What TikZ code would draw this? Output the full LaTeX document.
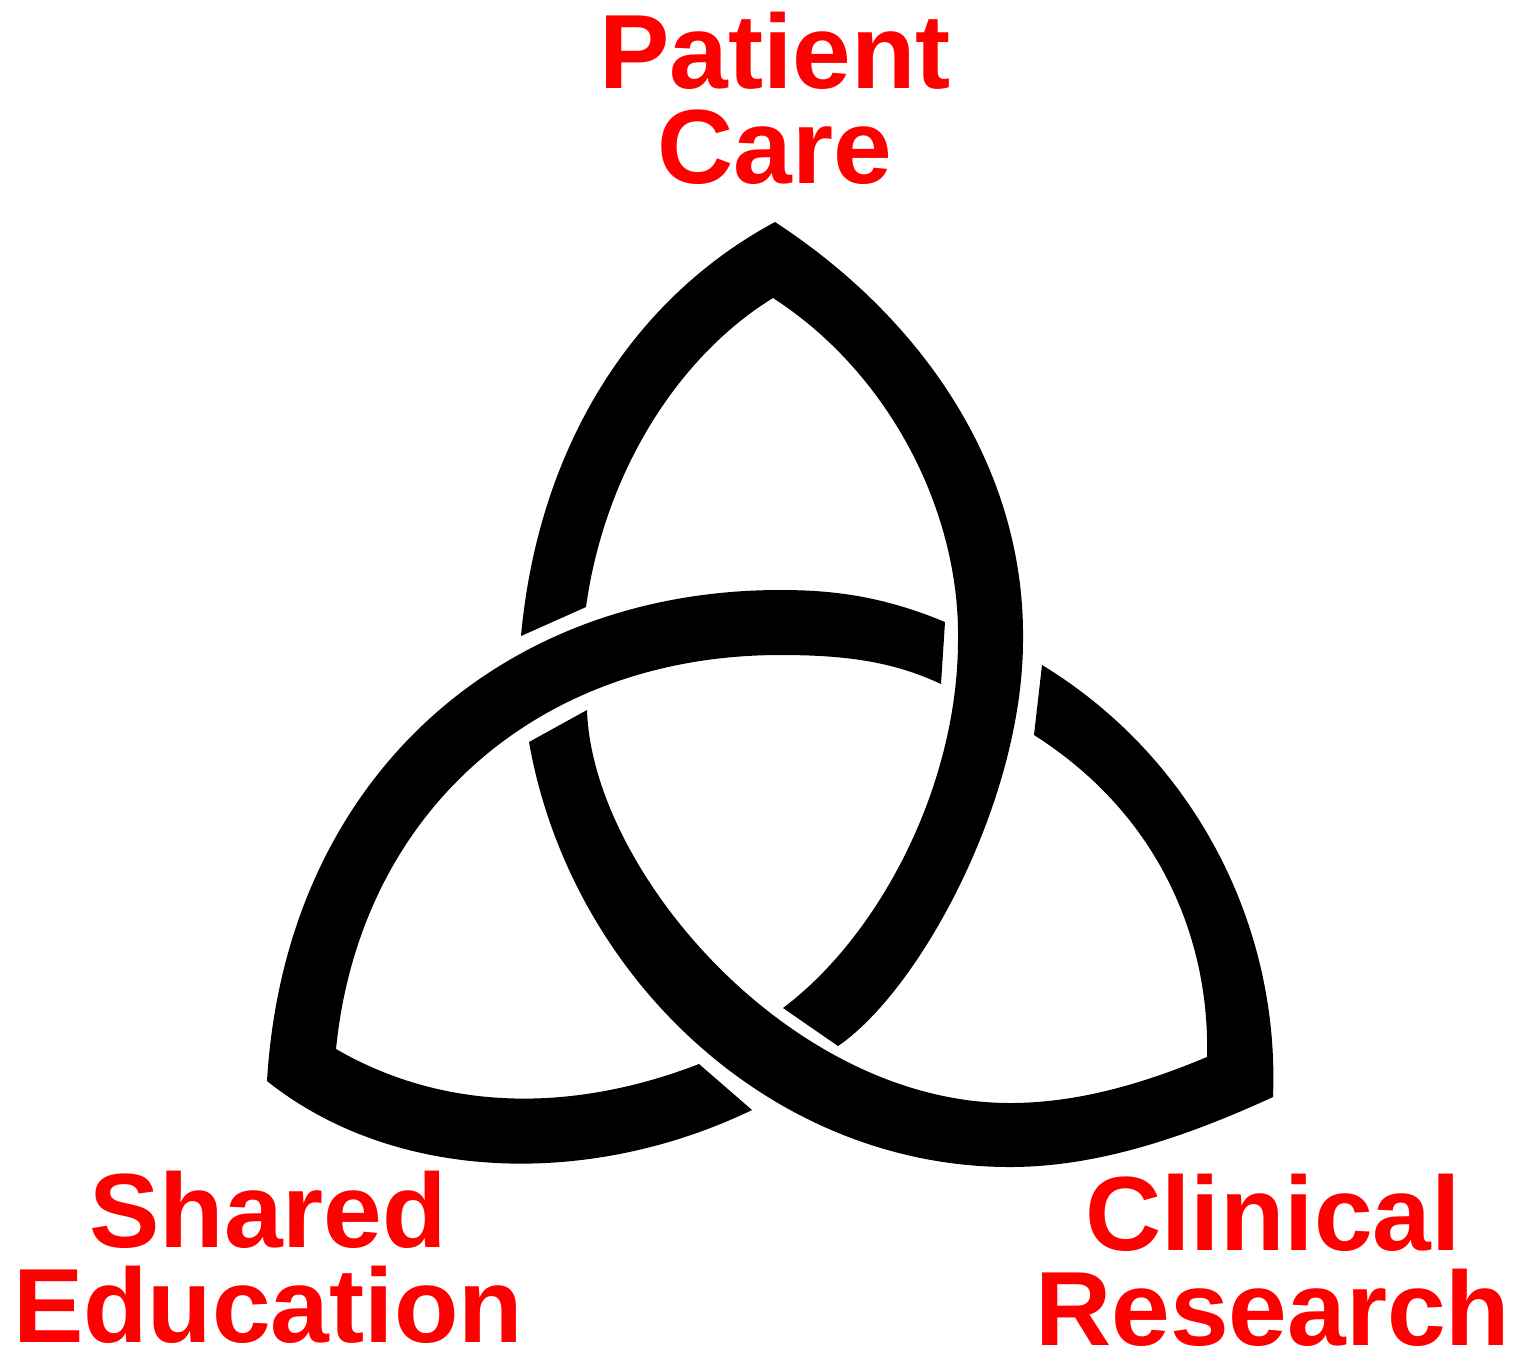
\documentclass[tikz,border=0pt]{standalone}
\usepackage{fontspec}
\setmainfont{Liberation Sans}
\usepackage{xcolor}
\definecolor{label}{HTML}{FF0000}
\tikzset{
  band/.style={fill=black, draw=none},
  title/.style={text=label, font=\fontsize{30}{27}\selectfont\bfseries, align=center, inner sep=0pt}
}

\begin{document}
\begin{tikzpicture}[x=0.01cm, y=-0.01cm]
  \useasboundingbox (0,0) rectangle (1539,1350);
  % patient care loop
  \fill[band] (521,636) .. controls (538,450) and (630,300) .. (775,222)
    .. controls (925,320) and (1025,470) .. (1023,640)
    .. controls (1023,800) and (920,990) .. (838,1046)
    -- (783,1008)
    .. controls (880,935) and (958,785) .. (958,640)
    .. controls (960,510) and (888,372) .. (773,298)
    .. controls (680,355) and (605,470) .. (586,607) -- cycle;
  % shared education loop
  \fill[band] (945,622) .. controls (880,595) and (830,590) .. (780,590)
    .. controls (500,590) and (285,780) .. (267,1081)
    .. controls (395,1183) and (590,1188) .. (752,1110)
    -- (699,1064)
    .. controls (580,1110) and (450,1115) .. (336,1049)
    .. controls (360,810) and (540,655) .. (780,655)
    .. controls (840,655) and (890,660) .. (941,684) -- cycle;
  % clinical research loop
  \fill[band] (1042,665) .. controls (1190,755) and (1280,920) .. (1273,1097)
    .. controls (1190,1135) and (1100,1167) .. (1010,1167)
    .. controls (770,1167) and (570,975) .. (529,742)
    -- (587,710)
    .. controls (592,870) and (790,1103) .. (1010,1103)
    .. controls (1075,1103) and (1140,1085) .. (1207,1057)
    .. controls (1210,940) and (1160,815) .. (1034,735) -- cycle;
  \node[title] (patient) at (775,98) {Patient\\Care};
  \node[title] (shared) at (268,1257) {Shared\\Education};
  \node[title] (clinical) at (1273,1260) {Clinical\\Research};
\end{tikzpicture}
\end{document}
